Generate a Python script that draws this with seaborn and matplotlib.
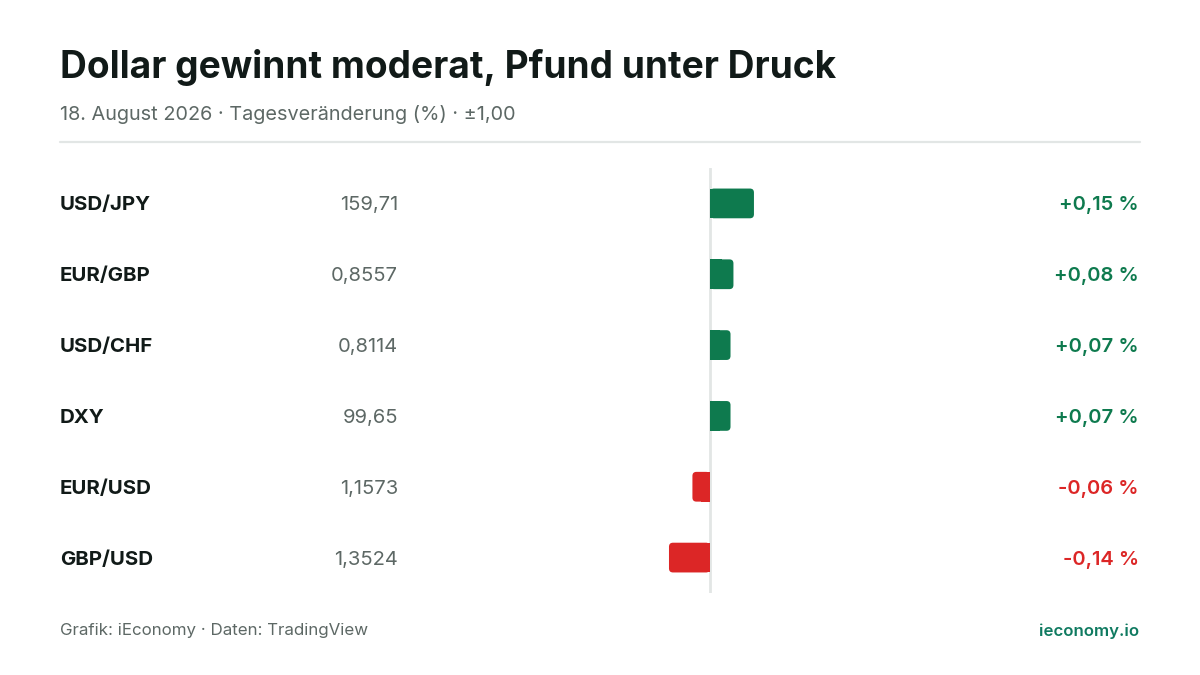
import matplotlib
matplotlib.use("Agg")
import matplotlib.pyplot as plt
from matplotlib.patches import FancyBboxPatch
import matplotlib.transforms as mtransforms
import seaborn as sns

# data
pairs = ["USD/JPY", "EUR/GBP", "USD/CHF", "DXY", "EUR/USD", "GBP/USD"]
prices = ["159,71", "0,8557", "0,8114", "99,65", "1,1573", "1,3524"]
changes = [0.15, 0.08, 0.07, 0.07, -0.06, -0.14]
change_labels = ["+0,15 %", "+0,08 %", "+0,07 %", "+0,07 %", "-0,06 %", "-0,14 %"]

title = "Dollar gewinnt moderat, Pfund unter Druck"
subtitle = "18. August 2026 · Tagesveränderung (%) · ±1,00"
source = "Grafik: iEconomy · Daten: TradingView"
brand = "ieconomy.io"

GREEN = "#0e7a4e"
RED = "#dc2626"
DARK = "#111a18"
GRAY = "#5d6865"
RULE = "#e2e6e5"

sns.set_theme(style="white")
plt.rcParams["font.family"] = ["Inter", "DejaVu Sans"]

W, H = 1200, 675
fig = plt.figure(figsize=(12, 6.75), dpi=100)
fig.patch.set_facecolor("white")

def fx(px):
    return px / W

def fy(py):
    return 1 - py / H

# bar axes: zero at x=710, ±1 spans 293 px, rows from y=168 to 593
ax = fig.add_axes([fx(417), fy(593), fx(1003) - fx(417), (593 - 168) / H])
colors = {p: (GREEN if c >= 0 else RED) for p, c in zip(pairs, changes)}
sns.barplot(x=changes, y=pairs, hue=pairs, order=pairs, palette=colors,
            orient="h", width=0.42, ax=ax, legend=False, saturation=1)
ax.set_xlim(-1, 1)
ax.set_ylim(len(pairs) - 0.5, -0.5)
ax.axis("off")
ax.axvline(0, color=RULE, lw=2, zorder=0)

# round the outer end of each bar
x_px = 293.0
y_px = (593 - 168) / len(pairs)
r = 4 / x_px
for p in list(ax.patches):
    x0, y0, w, h = p.get_x(), p.get_y(), p.get_width(), p.get_height()
    left = min(x0, x0 + w)
    rb = FancyBboxPatch((left, y0), abs(w), h,
                        boxstyle=f"round,pad=0,rounding_size={r}",
                        mutation_aspect=x_px / y_px,
                        facecolor=p.get_facecolor(), edgecolor="none", zorder=2)
    ax.add_patch(rb)
    p.set_width(w / 2)
    p.set_edgecolor("none")
    p.set_zorder(3)

# row texts
tr = mtransforms.blended_transform_factory(fig.transFigure, ax.transData)
for i, (name, price, c, lab) in enumerate(zip(pairs, prices, changes, change_labels)):
    ax.text(fx(60), i, name, transform=tr, ha="left", va="center_baseline",
            fontsize=14.7, fontweight="bold", color=DARK)
    ax.text(fx(398), i, price, transform=tr, ha="right", va="center_baseline",
            fontsize=14.5, color=GRAY)
    ax.text(fx(1139), i, lab, transform=tr, ha="right", va="center_baseline",
            fontsize=14.5, fontweight="semibold", color=GREEN if c >= 0 else RED)

# header
fig.text(fx(60), fy(67), title, ha="left", va="center",
         fontsize=26.7, fontweight="bold", color=DARK)
fig.text(fx(60), fy(114), subtitle, ha="left", va="center",
         fontsize=14.3, color=GRAY)
fig.add_artist(plt.Line2D([fx(60), fx(1140)], [fy(142), fy(142)],
                          color=RULE, lw=1.6, transform=fig.transFigure))

# footer
fig.text(fx(60), fy(631), source, ha="left", va="center", fontsize=12.2, color=GRAY)
fig.text(fx(1139), fy(631), brand, ha="right", va="center",
         fontsize=12.1, fontweight="semibold", color="#0f7a60")

fig.savefig("out.png", dpi=100, facecolor="white")
